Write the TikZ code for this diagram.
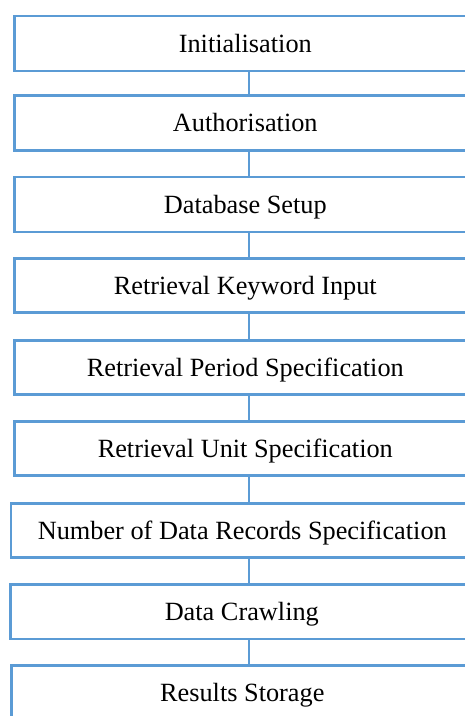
\documentclass[tikz,border=0pt]{standalone}
\usepackage{fontspec}
\setmainfont{Liberation Serif}
\definecolor{boxblue}{HTML}{5B9BD5}
\begin{document}
\begin{tikzpicture}[x=1pt,y=-1pt,
  stepbox/.style={draw=boxblue,line width=2.6pt,rectangle,inner sep=0pt,
    font=\fontsize{26.3}{30}\selectfont,anchor=north west,text depth=0pt},
  link/.style={draw=boxblue,line width=2.4pt}]
\clip (0,0) rectangle (465,716);
\fill[white] (0,0) rectangle (465,716);
\node[stepbox,minimum width=462pt,minimum height=55pt] (b1) at (13,14.5) {Initialisation};
\node[stepbox,minimum width=462pt,minimum height=55pt] (b2) at (13,94) {Authorisation};
\node[stepbox,minimum width=462pt,minimum height=55pt] (b3) at (13,175.5) {Database Setup};
\node[stepbox,minimum width=462pt,minimum height=54pt] (b4) at (13,257.3) {Retrieval Keyword Input};
\node[stepbox,minimum width=462pt,minimum height=54.3pt] (b5) at (13,339) {Retrieval Period Specification};
\node[stepbox,minimum width=462pt,minimum height=54pt] (b6) at (13,420.3) {Retrieval Unit Specification};
\node[stepbox,minimum width=463pt,minimum height=54.3pt] (b7) at (9.5,502) {Number of Data Records Specification};
\node[stepbox,minimum width=463pt,minimum height=54.4pt] (b8) at (9,583.3) {Data Crawling};
\node[stepbox,minimum width=462pt,minimum height=54.5pt] (b9) at (10,664.3) {Results Storage};
\coordinate (cx) at (249,0);
\foreach \a/\b in {b1/b2,b2/b3,b3/b4,b4/b5,b5/b6,b6/b7,b7/b8,b8/b9}
  \draw[link] (\a.south -| cx) -- (\b.north -| cx);
\end{tikzpicture}
\end{document}
